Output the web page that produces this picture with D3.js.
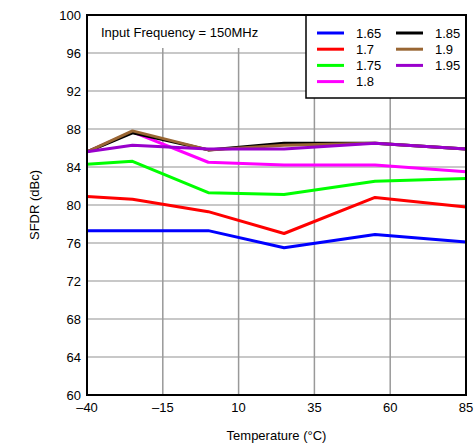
<!DOCTYPE html>
<html>
<head>
<meta charset="utf-8">
<script src="https://cdn.jsdelivr.net/npm/d3@7"></script>
<style>
  body { margin: 0; background: #fff; }
  text { font-family: "Liberation Sans", Arial, sans-serif; font-size: 13px; fill: #000; }
</style>
</head>
<body>
<svg class="chart"></svg>
<script>
// temperatures (°C) where each curve was measured
const temps = [-40, -25, 0, 25, 55, 85];

// supply voltage labels and colours
const seriesNames = ["1.65", "1.7", "1.75", "1.8", "1.85", "1.9", "1.95"];
const seriesColors = ["#0000ff", "#ff0000", "#00ff00", "#ff00ff", "#000000", "#996633", "#9900cc"];

// SFDR values (dBc)
const v165 = [77.3, 77.3, 77.3, 75.5, 76.9, 76.1];
const v170 = [80.9, 80.6, 79.3, 77.0, 80.8, 79.8];
const v175 = [84.3, 84.6, 81.3, 81.1, 82.5, 82.8];
const v180 = [85.6, 87.7, 84.5, 84.2, 84.2, 83.5];
const v185 = [85.6, 87.6, 85.8, 86.5, 86.5, 85.9];
const v190 = [85.6, 87.8, 85.8, 86.3, 86.5, 85.9];
const v195 = [85.6, 86.3, 85.9, 85.9, 86.5, 85.9];

const xTicks = [-40, -15, 10, 35, 60, 85];
const yTicks = [60, 64, 68, 72, 76, 80, 84, 88, 92, 96, 100];

const seriesValues = [v165, v170, v175, v180, v185, v190, v195];
const series = seriesNames.map((name, i) => ({
  name: name,
  color: seriesColors[i],
  values: seriesValues[i].map((v, j) => ({t: temps[j], v: v}))
}));

const W = 475, H = 444;
const margin = {top: 15, right: 9, bottom: 49, left: 87};
const width = W - margin.left - margin.right;
const height = H - margin.top - margin.bottom;

const x = d3.scaleLinear().domain([-40, 85]).range([0, width]);
const y = d3.scaleLinear().domain([60, 100]).range([height, 0]);

const svg = d3.select(".chart")
    .attr("width", W)
    .attr("height", H)
  .append("g")
    .attr("transform", "translate(" + margin.left + "," + margin.top + ")");

// horizontal grid
svg.append("g")
  .selectAll("line")
  .data(yTicks)
  .enter().append("line")
    .attr("x1", 0).attr("x2", width)
    .attr("y1", d => y(d)).attr("y2", d => y(d))
    .style("stroke", "#c8c8c8")
    .style("stroke-width", 2);

// vertical grid
svg.append("g")
  .selectAll("line")
  .data(xTicks)
  .enter().append("line")
    .attr("x1", d => x(d)).attr("x2", d => x(d))
    .attr("y1", 0).attr("y2", height)
    .style("stroke", "#999")
    .style("stroke-width", 1.5);

// data lines
const line = d3.line()
  .x(d => x(d.t))
  .y(d => y(d.v));

svg.append("g")
  .selectAll("path")
  .data(series)
  .enter().append("path")
    .attr("d", d => line(d.values))
    .style("fill", "none")
    .style("stroke", d => d.color)
    .style("stroke-width", 3)
    .style("stroke-linejoin", "round");

// annotation with white backing
svg.append("rect")
  .attr("x", 0).attr("y", 0)
  .attr("width", 200).attr("height", 33)
  .style("fill", "#fff");

svg.append("text")
  .attr("x", 14)
  .attr("y", 22)
  .text("Input Frequency = 150MHz");

// legend
const legendG = svg.append("g")
  .attr("transform", "translate(" + (width - 160) + ",0)");

legendG.append("rect")
  .attr("width", 160)
  .attr("height", 83)
  .style("fill", "#fff")
  .style("stroke", "#000")
  .style("stroke-width", 1.5);

const legend = legendG.selectAll(".legend")
    .data(series)
  .enter().append("g")
    .attr("class", "legend")
    .attr("transform", (d, i) => {
      const col = i < 4 ? 0 : 1;
      const row = i < 4 ? i : i - 4;
      return "translate(" + (11 + col * 79) + "," + (18 + row * 16.2) + ")";
    });

legend.append("line")
  .attr("x1", 0).attr("x2", 27)
  .attr("y1", 0).attr("y2", 0)
  .style("stroke", d => d.color)
  .style("stroke-width", 3);

legend.append("text")
  .attr("x", 39)
  .attr("dy", ".35em")
  .text(d => d.name);

// axes labels
svg.append("g")
  .selectAll("text")
  .data(yTicks)
  .enter().append("text")
    .attr("x", -6)
    .attr("y", d => y(d))
    .attr("dy", ".35em")
    .style("text-anchor", "end")
    .text(d => d);

svg.append("g")
  .selectAll("text")
  .data(xTicks)
  .enter().append("text")
    .attr("x", d => x(d))
    .attr("y", height + 17)
    .style("text-anchor", "middle")
    .text(d => d < 0 ? "\u2013" + Math.abs(d) : d);

// plot frame
svg.append("rect")
  .attr("width", width)
  .attr("height", height)
  .style("fill", "none")
  .style("stroke", "#000")
  .style("stroke-width", 2);

// axis titles
svg.append("text")
  .attr("x", width / 2)
  .attr("y", height + 45)
  .style("text-anchor", "middle")
  .text("Temperature (\u00b0C)");

svg.append("text")
  .attr("transform", "rotate(-90)")
  .attr("x", -height / 2)
  .attr("y", -48)
  .style("text-anchor", "middle")
  .text("SFDR (dBc)");
</script>
</body>
</html>
